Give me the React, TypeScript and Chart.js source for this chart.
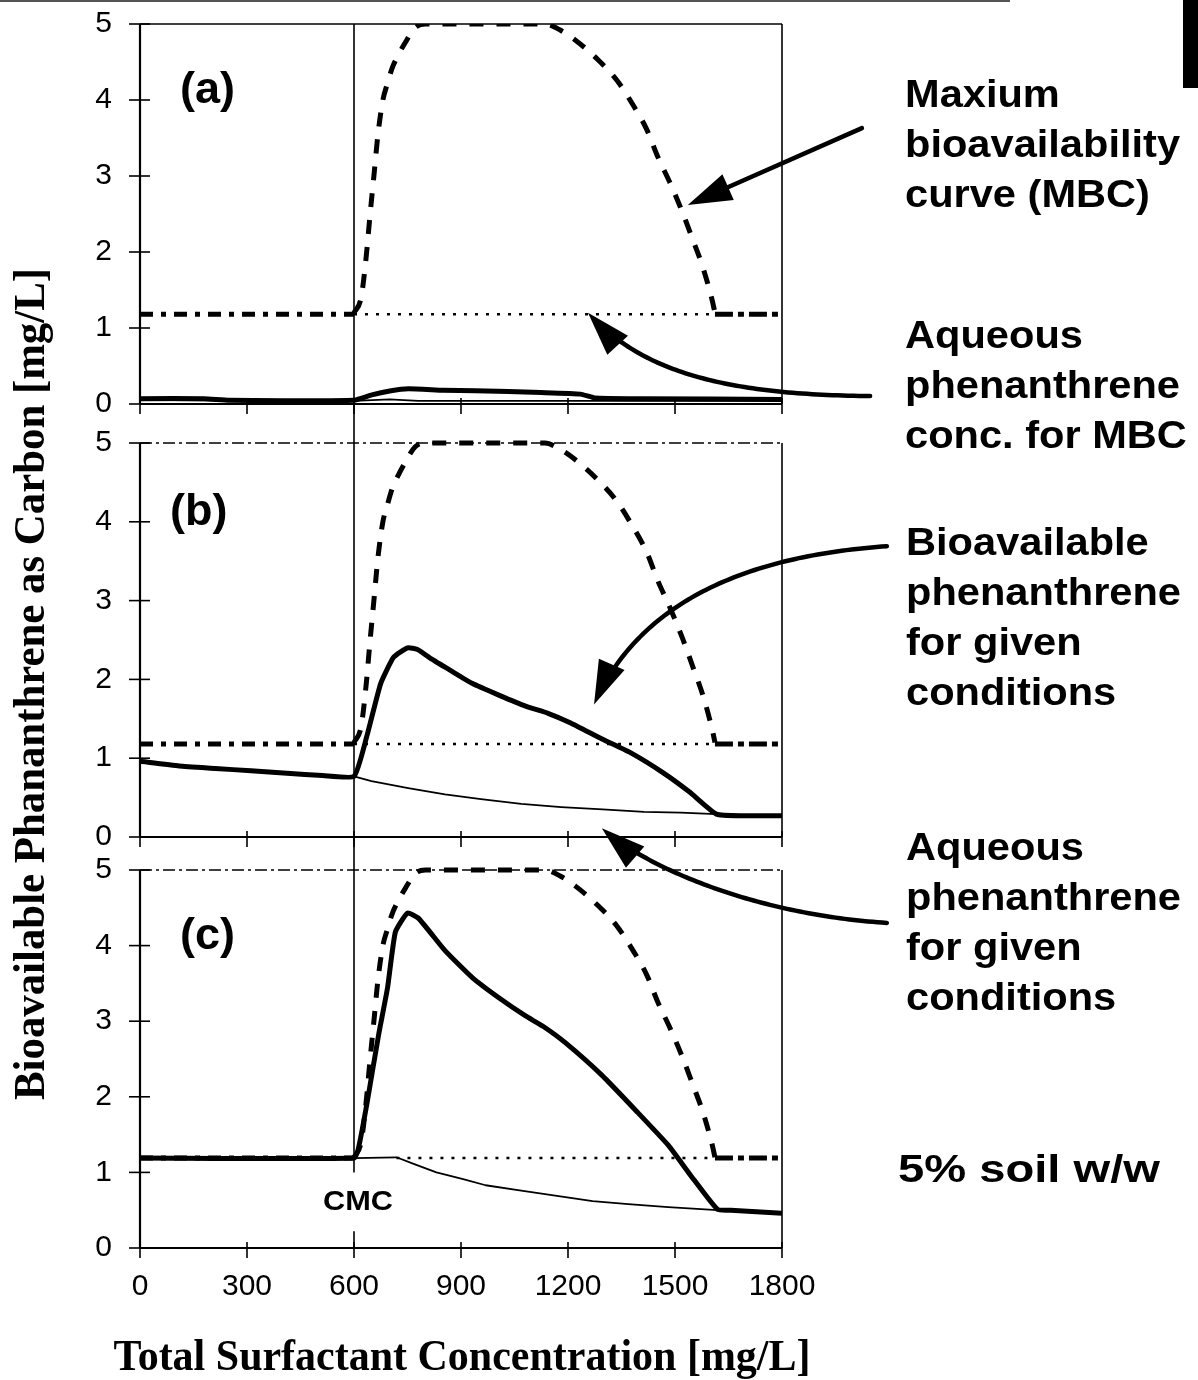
import React, { useEffect, useRef } from "react";
import { Chart, registerables } from "chart.js";

Chart.register(...registerables);

const W = 1198;
const H = 1380;
const SANS = "'Liberation Sans', Arial, sans-serif";
const SERIF = "'Liberation Serif', 'Times New Roman', serif";

// ---------------- data ----------------
const X_TICKS = [0, 300, 600, 900, 1200, 1500, 1800];
const Y_TICKS = [0, 1, 2, 3, 4, 5];
const CMC = 600;
const PANEL_LABELS = ["(a)", "(b)", "(c)"];

// Maximum bioavailability curve (identical in the three panels)
const MBC_X = [600, 620, 634, 645, 656, 667, 681, 694, 707, 725, 743, 771, 800, 900, 1000, 1135, 1178, 1220, 1284, 1337, 1379, 1421, 1452, 1486, 1522, 1550, 1578, 1604, 1612];
const MBC_Y = [1.2, 1.4, 1.93, 2.49, 3.01, 3.54, 4.0, 4.22, 4.42, 4.6, 4.75, 4.95, 5.0, 5.0, 5.0, 5.0, 4.92, 4.79, 4.53, 4.26, 3.96, 3.61, 3.25, 2.91, 2.51, 2.16, 1.8, 1.37, 1.2];

// Aqueous phenanthrene conc. for MBC (horizontal level per panel)
const AQ_MBC_LEVEL = [1.18, 1.18, 1.19];
const AQ_MBC_DOTTED_FROM = [600, 600, 719];
const AQ_MBC_DOTTED_TO = 1612;

// Panel (a)
const A_BIO_X = [0, 180, 250, 600, 650, 700, 752, 850, 940, 1125, 1235, 1275, 1400, 1800];
const A_BIO_Y = [0.07, 0.07, 0.05, 0.05, 0.12, 0.17, 0.2, 0.18, 0.175, 0.15, 0.13, 0.08, 0.07, 0.06];
const A_AQ_X = [0, 600, 700, 780, 1125, 1800];
const A_AQ_Y = [0.05, 0.04, 0.06, 0.04, 0.04, 0.04];

// Panel (b)
const B_BIO_X = [0, 110, 211, 311, 412, 512, 600, 636, 675, 711, 750, 778, 817, 868, 931, 1006, 1081, 1144, 1206, 1297, 1375, 1465, 1541, 1616, 1691, 1800];
const B_BIO_Y = [0.96, 0.9, 0.87, 0.84, 0.81, 0.78, 0.77, 1.28, 1.95, 2.28, 2.4, 2.38, 2.26, 2.12, 1.95, 1.8, 1.66, 1.57, 1.45, 1.24, 1.07, 0.82, 0.57, 0.29, 0.27, 0.27];
const B_AQ_X = [0, 110, 211, 311, 412, 512, 600, 649, 752, 855, 956, 1069, 1181, 1297, 1413, 1516, 1616, 1691, 1800];
const B_AQ_Y = [0.96, 0.9, 0.87, 0.84, 0.81, 0.78, 0.77, 0.71, 0.62, 0.54, 0.48, 0.42, 0.38, 0.35, 0.32, 0.31, 0.29, 0.27, 0.27];

// Panel (c)
const C_BIO_X = [0, 600, 612, 637, 669, 694, 716, 750, 781, 856, 931, 1006, 1081, 1131, 1194, 1294, 1394, 1481, 1544, 1619, 1656, 1800];
const C_BIO_Y = [1.19, 1.19, 1.31, 1.93, 2.82, 3.44, 4.18, 4.43, 4.36, 3.93, 3.58, 3.31, 3.07, 2.93, 2.71, 2.29, 1.8, 1.36, 0.96, 0.51, 0.5, 0.46];
const C_AQ_X = [0, 600, 719, 769, 831, 906, 969, 1069, 1169, 1269, 1369, 1481, 1619, 1656, 1800];
const C_AQ_Y = [1.19, 1.19, 1.2, 1.11, 1.0, 0.91, 0.83, 0.76, 0.69, 0.62, 0.58, 0.54, 0.5, 0.5, 0.46];

// annotation texts
const NOTE_GROUPS = [
  { lines: ["Maxium", "bioavailability", "curve (MBC)"], x: 905, baseline: 107 },
  { lines: ["Aqueous", "phenanthrene", "conc. for MBC"], x: 905, baseline: 348 },
  { lines: ["Bioavailable", "phenanthrene", "for given", "conditions"], x: 906, baseline: 555 },
  { lines: ["Aqueous", "phenanthrene", "for given", "conditions"], x: 906, baseline: 860 },
];
const SOIL_NOTE = "5% soil w/w";
const X_TITLE = "Total Surfactant Concentration [mg/L]";
const Y_TITLE = "Bioavailable Phananthrene as Carbon [mg/L]";

// arrows in data coordinates (x on the x scale, y on the given panel scale)
const ARROWS = [
  { axis: "yA", pts: [[2024, 3.63], [1536, 2.62]], head: [44, 14] },
  { axis: "yA", pts: [[2047, 0.105], [1626, 0.12], [1402, 0.45], [1256, 1.2]], head: [44, 14] },
  { axis: "yB", pts: [[2094, 3.69], [1710, 3.57], [1402, 3.01], [1273, 1.68]], head: [44, 14] },
  { axis: "yB", pts: [[2094, -1.09], [1738, -0.99], [1430, -0.42], [1295, 0.11]], head: [44, 14] },
];

// ---------------- layout ----------------
const PLOT_LEFT = 140;
const PLOT_RIGHT = 782;
const PLOT_TOP = 24;
const PLOT_BOTTOM = 1248;
const PANEL_PX = [
  [24, 404],
  [443, 837],
  [870, 1248],
];
const PANEL_IDS = ["yA", "yB", "yC"];

function panelRange(i: number) {
  const [p5, p0] = PANEL_PX[i];
  const sTop = i === 0 ? PLOT_TOP : (PANEL_PX[i - 1][1] + p5) / 2;
  const sBot = i === 2 ? PLOT_BOTTOM : (p0 + PANEL_PX[i + 1][0]) / 2;
  const unit = (p0 - p5) / 5;
  return { min: -(sBot - p0) / unit, max: 5 + (p5 - sTop) / unit, weight: sBot - sTop };
}

type Pt = { x: number; y: number };
const pts = (xs: number[], ys: number[]): Pt[] => xs.map((x, i) => ({ x, y: ys[i] }));

const PANELS = [
  { bioX: A_BIO_X, bioY: A_BIO_Y, aqX: A_AQ_X, aqY: A_AQ_Y },
  { bioX: B_BIO_X, bioY: B_BIO_Y, aqX: B_AQ_X, aqY: B_AQ_Y },
  { bioX: C_BIO_X, bioY: C_BIO_Y, aqX: C_AQ_X, aqY: C_AQ_Y },
];

function buildDatasets() {
  const out: any[] = [];
  PANELS.forEach((p, i) => {
    const id = PANEL_IDS[i];
    const lvl = AQ_MBC_LEVEL[i];
    const base = { xAxisID: "x", yAxisID: id, borderColor: "#000", pointRadius: 0, fill: false };
    out.push({ ...base, label: "Bioavailable phenanthrene", data: pts(p.bioX, p.bioY), borderWidth: 5, tension: 0.15 });
    out.push({ ...base, label: "MBC", data: pts(MBC_X, MBC_Y), borderWidth: 5, borderDash: [14, 13], cubicInterpolationMode: "monotone" });
    out.push({ ...base, label: "Aqueous phenanthrene", data: pts(p.aqX, p.aqY), borderWidth: 1.8 });
    out.push({ ...base, label: "Aq. MBC (below CMC)", data: pts([0, CMC], [lvl, lvl]), borderWidth: 5, borderDash: [13, 8, 5, 8] });
    out.push({ ...base, label: "Aq. MBC", data: pts([AQ_MBC_DOTTED_FROM[i], AQ_MBC_DOTTED_TO], [lvl, lvl]), borderWidth: 2.5, borderDash: [3, 8] });
    out.push({ ...base, label: "Aq. MBC (above)", data: pts([AQ_MBC_DOTTED_TO, 1800], [lvl, lvl]), borderWidth: 5, borderDash: [18, 5, 6, 5] });
  });
  return out;
}

function yScale(i: number) {
  const r = panelRange(i);
  return {
    type: "linear",
    position: "left",
    stack: "panels",
    stackWeight: r.weight,
    weight: 3 - i,
    min: r.min,
    max: r.max,
    afterBuildTicks: (s: any) => {
      s.ticks = Y_TICKS.map((v) => ({ value: v }));
    },
    afterFit: (s: any) => {
      s.width = PLOT_LEFT;
      s.paddingTop = 0;
      s.paddingBottom = 0;
    },
    grid: { display: false, drawTicks: false },
    border: { display: false },
    ticks: { color: "#000", font: { family: SANS, size: 30 }, padding: 28, autoSkip: false, callback: (v: any) => String(v) },
  };
}

function strokeLine(ctx: CanvasRenderingContext2D, x1: number, y1: number, x2: number, y2: number, w: number, dash: number[] = []) {
  ctx.save();
  ctx.beginPath();
  ctx.setLineDash(dash);
  ctx.lineWidth = w;
  ctx.strokeStyle = "#000";
  ctx.moveTo(x1, y1);
  ctx.lineTo(x2, y2);
  ctx.stroke();
  ctx.restore();
}

function drawArrow(ctx: CanvasRenderingContext2D, P: number[][], headLen: number, headHalf: number) {
  const tip = P[P.length - 1];
  const from = P[P.length - 2];
  const ang = Math.atan2(tip[1] - from[1], tip[0] - from[0]);
  const samples: number[][] = [];
  if (P.length === 2) {
    samples.push(P[0], P[1]);
  } else {
    for (let k = 0; k <= 80; k++) {
      const t = k / 80;
      const m = 1 - t;
      const a = m * m * m, b = 3 * m * m * t, c = 3 * m * t * t, d = t * t * t;
      samples.push([
        a * P[0][0] + b * P[1][0] + c * P[2][0] + d * P[3][0],
        a * P[0][1] + b * P[1][1] + c * P[2][1] + d * P[3][1],
      ]);
    }
  }
  const cut = headLen * 0.6;
  ctx.save();
  ctx.strokeStyle = "#000";
  ctx.fillStyle = "#000";
  ctx.lineWidth = 4.5;
  ctx.lineCap = "round";
  ctx.lineJoin = "round";
  ctx.setLineDash([]);
  ctx.beginPath();
  ctx.moveTo(samples[0][0], samples[0][1]);
  for (let k = 1; k < samples.length; k++) {
    const s = samples[k];
    if (Math.hypot(s[0] - tip[0], s[1] - tip[1]) < cut) {
      ctx.lineTo(tip[0] - cut * Math.cos(ang), tip[1] - cut * Math.sin(ang));
      break;
    }
    ctx.lineTo(s[0], s[1]);
  }
  ctx.stroke();
  const bx = tip[0] - headLen * Math.cos(ang);
  const by = tip[1] - headLen * Math.sin(ang);
  ctx.beginPath();
  ctx.moveTo(tip[0], tip[1]);
  ctx.lineTo(bx + headHalf * Math.sin(ang), by - headHalf * Math.cos(ang));
  ctx.lineTo(bx - headHalf * Math.sin(ang), by + headHalf * Math.cos(ang));
  ctx.closePath();
  ctx.fill();
  ctx.restore();
}

function fitText(ctx: CanvasRenderingContext2D, text: string, x: number, y: number, sx: number, align: CanvasTextAlign = "left") {
  ctx.save();
  ctx.translate(x, y);
  ctx.scale(sx, 1);
  ctx.textAlign = align;
  ctx.fillText(text, 0, 0);
  ctx.restore();
}

const decorPlugin = {
  id: "decor",
  beforeDraw(chart: any) {
    const ctx = chart.ctx as CanvasRenderingContext2D;
    ctx.save();
    ctx.fillStyle = "#fff";
    ctx.fillRect(0, 0, chart.width, chart.height);
    // scan artefacts of the source page
    ctx.fillStyle = "#000";
    ctx.fillRect(1183, 0, 15, 88);
    ctx.fillStyle = "#555";
    ctx.fillRect(0, 0, 1010, 2);
    ctx.restore();
  },
  beforeDatasetsDraw(chart: any) {
    const ctx = chart.ctx as CanvasRenderingContext2D;
    const x = chart.scales.x;
    const xL = x.getPixelForValue(0);
    const xR = x.getPixelForValue(1800);
    PANEL_IDS.forEach((id, i) => {
      const s = chart.scales[id];
      const y0 = s.getPixelForValue(0);
      const y5 = s.getPixelForValue(5);
      strokeLine(ctx, xL, y5, xR, y5, 1.5, i === 0 ? [] : [12, 4, 3, 4]);
      strokeLine(ctx, xR, y5, xR, y0, 1.6);
      strokeLine(ctx, xL, y5, xL, y0, 2.2);
      strokeLine(ctx, xL, y0, xR, y0, 2.2);
      Y_TICKS.forEach((v) => {
        const py = s.getPixelForValue(v);
        strokeLine(ctx, xL - 11, py, xL + 10, py, 1.6);
      });
      X_TICKS.forEach((v) => {
        const px = x.getPixelForValue(v);
        strokeLine(ctx, px, y0 - 6, px, y0 + 10, 1.6);
      });
    });
    // CMC vertical line through all panels (broken by the CMC label)
    const cx = x.getPixelForValue(CMC);
    const yA = chart.scales.yA;
    const yC = chart.scales.yC;
    strokeLine(ctx, cx, yA.getPixelForValue(5), cx, yC.getPixelForValue(1.0), 1.6);
    strokeLine(ctx, cx, yC.getPixelForValue(0.22), cx, yC.getPixelForValue(0), 1.6);
  },
  afterDatasetsDraw(chart: any) {
    const ctx = chart.ctx as CanvasRenderingContext2D;
    const x = chart.scales.x;
    ctx.save();
    ctx.fillStyle = "#000";
    // panel labels
    ctx.font = `bold 45px ${SANS}`;
    ctx.textBaseline = "middle";
    const labelX = [112, 84, 112];
    PANEL_IDS.forEach((id, i) => {
      const s = chart.scales[id];
      ctx.textAlign = "left";
      ctx.fillText(PANEL_LABELS[i], x.getPixelForValue(labelX[i]), s.getPixelForValue(4.12));
    });
    // CMC label
    ctx.textBaseline = "alphabetic";
    ctx.font = `bold 28px ${SANS}`;
    const cmcW = ctx.measureText("CMC").width;
    fitText(ctx, "CMC", x.getPixelForValue(CMC) + 4, chart.scales.yC.getPixelForValue(0.5), 70 / cmcW, "center");

    // arrows
    ARROWS.forEach((a) => {
      const s = chart.scales[a.axis];
      const P = a.pts.map((p) => [x.getPixelForValue(p[0]), s.getPixelForValue(p[1])]);
      drawArrow(ctx, P, a.head[0], a.head[1]);
    });

    // notes
    ctx.font = `bold 39px ${SANS}`;
    const sx = 275 / ctx.measureText("phenanthrene").width;
    NOTE_GROUPS.forEach((g) => {
      g.lines.forEach((t, k) => fitText(ctx, t, g.x, g.baseline + k * 50, sx));
    });
    ctx.font = `bold 38px ${SANS}`;
    fitText(ctx, SOIL_NOTE, 898, 1182, 262 / ctx.measureText(SOIL_NOTE).width);

    // axis titles
    ctx.font = `bold 44px ${SERIF}`;
    fitText(ctx, X_TITLE, 462, 1370, 697 / ctx.measureText(X_TITLE).width, "center");
    const yw = ctx.measureText(Y_TITLE).width;
    ctx.save();
    ctx.translate(44, 684);
    ctx.rotate(-Math.PI / 2);
    ctx.scale(832 / yw, 1);
    ctx.textAlign = "center";
    ctx.fillText(Y_TITLE, 0, 0);
    ctx.restore();
    ctx.restore();
  },
};

export default function App() {
  const ref = useRef<HTMLCanvasElement>(null);
  useEffect(() => {
    const canvas = ref.current;
    if (!canvas) return;
    const chart = new Chart(canvas, {
      type: "line",
      data: { datasets: buildDatasets() },
      options: {
        responsive: false,
        devicePixelRatio: 1,
        animation: false,
        events: [],
        layout: { autoPadding: false, padding: { left: 0, right: W - PLOT_RIGHT, top: PLOT_TOP, bottom: 0 } },
        plugins: { legend: { display: false }, tooltip: { enabled: false } },
        elements: { point: { radius: 0 }, line: { tension: 0, borderCapStyle: "butt", borderJoinStyle: "round" } },
        scales: {
          x: {
            type: "linear",
            position: "bottom",
            min: 0,
            max: 1800,
            afterBuildTicks: (s: any) => {
              s.ticks = X_TICKS.map((v) => ({ value: v }));
            },
            afterFit: (s: any) => {
              s.height = H - PLOT_BOTTOM;
            },
            grid: { display: false, drawTicks: false },
            border: { display: false },
            ticks: { color: "#000", font: { family: SANS, size: 30 }, padding: 21, maxRotation: 0, autoSkip: false, callback: (v: any) => String(v) },
          },
          yC: yScale(2),
          yB: yScale(1),
          yA: yScale(0),
        } as any,
      },
      plugins: [decorPlugin],
    } as any);
    return () => chart.destroy();
  }, []);
  return (
    <div style={{ position: "absolute", left: 0, top: 0, width: W, height: H, background: "#fff" }}>
      <canvas ref={ref} width={W} height={H} style={{ display: "block", width: W, height: H }} />
    </div>
  );
}
